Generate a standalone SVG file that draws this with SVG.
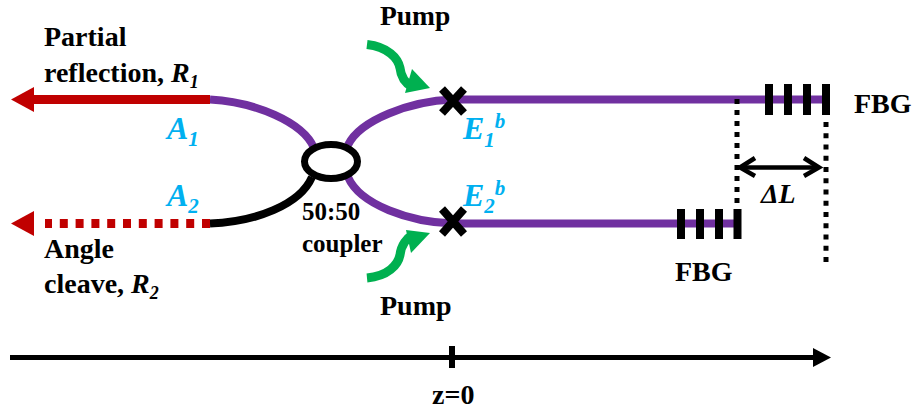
<svg xmlns="http://www.w3.org/2000/svg" width="914" height="411" viewBox="0 0 914 411">
<defs><style>
text{font-family:"Liberation Serif","Times New Roman",serif;font-weight:bold;fill:#000}
.l{font-size:28px}
.c{font-size:25px}
.b{font-size:32px;font-style:italic;fill:#00b0f0}
.i{font-style:italic}
.p{fill:none;stroke:#7030a0;stroke-width:8}
.k{fill:none;stroke:#000;stroke-width:8}
.r{fill:none;stroke:#c00000;stroke-width:9}
.g{fill:none;stroke:#00b050;stroke-width:9}
.h{fill:#00b050}
.dot{fill:none;stroke:#000;stroke-width:5}
.t{fill:none;stroke:#000;stroke-width:8}
.x{fill:none;stroke:#000;stroke-width:8}
</style></defs>
<g id="connectors">
<path class="p" d="M210 99.500C255 102 303 122 314 148"/>
<path class="k" d="M210 223.500C255 222 300 205 312 177"/>
<path class="r" d="M33 99.500H210"/>
<path d="M11 99.500L34 87V112Z" fill="#c00000"/>
<path class="r" stroke-dasharray="8 7.800" d="M210 223.500H45"/>
<path d="M11 223.500L34 211V236Z" fill="#c00000"/>
<path class="p" d="M348 145C360 120 410 101 453 99.500H827"/>
<path class="p" d="M348 177C360 205 410 222 453 223.500H738"/>
<path class="g" d="M367 44.500C388 47 398 58 400 68C401 78 407 84 412 87"/>
<path class="h" d="M430 88L405 93L412 69Z"/>
<path class="g" d="M367 278C388 276 398 265 400 255C401 245 407 238 412 235"/>
<path class="h" d="M430 233L411 253L406 230Z"/>
<path class="dot" stroke-dasharray="5 6" d="M737 99V208"/>
<path class="dot" stroke-dasharray="5 6.250" d="M826 122V262"/>
<path d="M741 167.500H817" fill="none" stroke="#000" stroke-width="4.500"/>
<path d="M755 158L740 167.500L755 176M804 158L819 167.500L804 176" fill="none" stroke="#000" stroke-width="4.500"/>
<path d="M10 357.500H817" fill="none" stroke="#000" stroke-width="5"/>
<path d="M831 357.500L813 348V367Z"/>
<path d="M452 346V368" fill="none" stroke="#000" stroke-width="6"/>
</g>
<g id="coupler"><ellipse cx="331" cy="161.500" rx="26.500" ry="17" fill="none" stroke="#000" stroke-width="7"/></g>
<g id="cross1"><path class="x" d="M442 89L464 113M464 89L442 113"/></g>
<g id="cross2"><path class="x" d="M442 209L464 234M464 209L442 234"/></g>
<g id="fbg1"><path class="t" d="M769 84V115M788 84V115M807 84V115M826 84V115"/></g>
<g id="fbg2"><path class="t" d="M681 209V239M700 209V239M719 209V239M737.500 209V239"/></g>
<g id="labels">
<text class="l" x="44" y="46">Partial</text>
<text class="l" x="44" y="82">reflection, <tspan class="i">R</tspan><tspan class="i" font-size="18" dy="6">1</tspan></text>
<text class="l" x="44" y="258">Angle</text>
<text class="l" x="44" y="293">cleave, <tspan class="i">R</tspan><tspan class="i" font-size="18" dy="6">2</tspan></text>
<text class="b" x="167" y="139">A<tspan font-size="21" dy="7">1</tspan></text>
<text class="b" x="167" y="206">A<tspan font-size="21" dy="7">2</tspan></text>
<text class="b" x="463" y="139">E<tspan font-size="21" dy="8">1</tspan><tspan font-size="21" dy="-19">b</tspan></text>
<text class="b" x="463" y="206">E<tspan font-size="21" dy="7">2</tspan><tspan font-size="21" dy="-18">b</tspan></text>
<text x="380" y="25" font-size="27.500">Pump</text>
<text class="l" x="380" y="315">Pump</text>
<text class="c" x="302" y="220">50:50</text>
<text class="c" x="302" y="252">coupler</text>
<text class="l" x="854" y="113">FBG</text>
<text class="l" x="675" y="281">FBG</text>
<text class="l i" x="761" y="203" font-weight="normal">ΔL</text>
<text class="l" x="432" y="404">z=0</text>
</g>
</svg>
